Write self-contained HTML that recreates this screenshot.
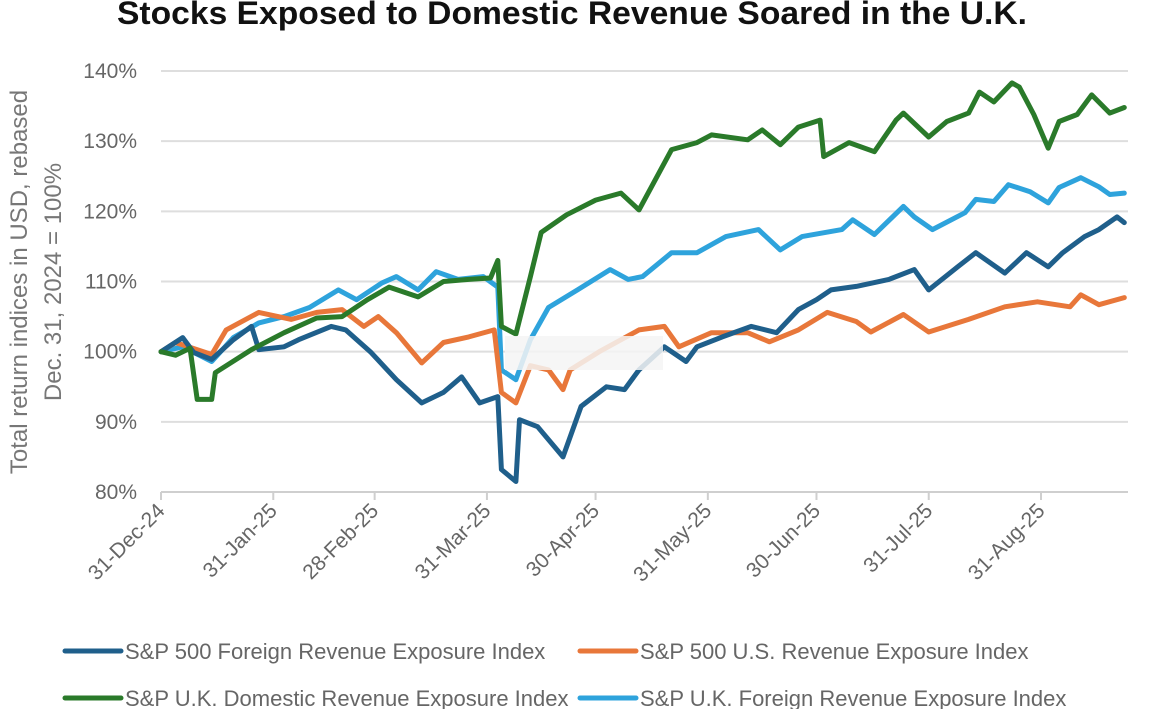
<!DOCTYPE html>
<html><head><meta charset="utf-8"><style>
body{margin:0;background:#fff;width:1170px;height:709px;overflow:hidden;font-family:"Liberation Sans",sans-serif}
</style></head><body>
<svg id="chart" width="1170" height="709" xmlns="http://www.w3.org/2000/svg">
<text x="572" y="24" text-anchor="middle" font-size="32" font-weight="bold" fill="#111" textLength="910" lengthAdjust="spacingAndGlyphs">Stocks Exposed to Domestic Revenue Soared in the U.K.</text>
<g id="grid"></g>
<g id="yticks"></g>
<g id="xticks"></g>
<g id="series"></g>
<rect x="505" y="336" width="158" height="34" fill="#f4f4f4" opacity="0.85"/>
<text transform="translate(27,282) rotate(-90)" text-anchor="middle" font-size="24" fill="#777">Total return indices in USD, rebased</text>
<text transform="translate(61,282) rotate(-90)" text-anchor="middle" font-size="24" fill="#777">Dec. 31, 2024 = 100%</text>
<g font-size="22" fill="#666">
<line x1="65" y1="651" x2="121" y2="651" stroke="#1f5f8b" stroke-width="5" stroke-linecap="round"/>
<text x="125" y="659">S&amp;P 500 Foreign Revenue Exposure Index</text>
<line x1="580" y1="651" x2="636" y2="651" stroke="#e8773a" stroke-width="5" stroke-linecap="round"/>
<text x="640" y="659">S&amp;P 500 U.S. Revenue Exposure Index</text>
<line x1="65" y1="698" x2="121" y2="698" stroke="#2a7a2a" stroke-width="5" stroke-linecap="round"/>
<text x="125" y="706">S&amp;P U.K. Domestic Revenue Exposure Index</text>
<line x1="580" y1="698" x2="636" y2="698" stroke="#2ea3dc" stroke-width="5" stroke-linecap="round"/>
<text x="640" y="706">S&amp;P U.K. Foreign Revenue Exposure Index</text>
</g>
</svg>
<script>
const yTicks=[80,90,100,110,120,130,140];
const xTickDays=[0,31,59,90,120,151,181,212,243];
const xTickLabels=["31-Dec-24","31-Jan-25","28-Feb-25","31-Mar-25","30-Apr-25","31-May-25","30-Jun-25","31-Jul-25","31-Aug-25"];
const foreignDays=[0,6,9,14,20,25,27,34,38,47,51,58,65,72,78,83,88,93,94,98,99,104,111,116,123,128,132,139,145,148,155,163,170,176,181,185,192,201,208,212,220,225,233,239,245,249,255,259,264,266];
const foreignVals=[100,102,99.9,98.9,101.7,103.6,100.3,100.7,101.7,103.6,103.1,99.9,96,92.7,94.2,96.4,92.7,93.6,83.2,81.5,90.3,89.3,85,92.2,95,94.6,97.4,100.7,98.6,100.7,102.1,103.6,102.7,106,107.4,108.8,109.3,110.3,111.7,108.8,112.1,114.1,111.2,114.1,112.1,114.1,116.4,117.4,119.2,118.4];
const usDays=[0,4,14,18,27,36,43,50,56,60,65,72,78,85,92,94,98,102,107,111,113,121,132,139,143,152,162,168,176,184,192,196,205,212,223,233,242,251,254,259,266];
const usVals=[100,101.3,99.6,103.1,105.6,104.6,105.6,106,103.6,105,102.7,98.4,101.3,102.1,103.1,94.2,92.7,98,97.4,94.6,97.4,100,103.1,103.6,100.7,102.7,102.7,101.4,103.1,105.6,104.3,102.8,105.3,102.8,104.6,106.4,107.1,106.4,108.1,106.7,107.7];
const ukDomDays=[0,4,8,10,14,15,25,34,43,50,57,63,71,78,85,91,93,94,98,102,105,112,120,127,132,141,148,152,162,166,171,176,182,183,190,197,203,205,212,217,223,226,230,235,237,241,245,248,253,257,262,266];
const ukDomVals=[100,99.5,100.5,93.2,93.2,97,100.3,102.7,104.8,105,107.4,109.2,107.8,110,110.3,110.5,113,103.6,102.5,110.7,117,119.5,121.6,122.6,120.2,128.8,129.8,130.9,130.2,131.6,129.5,132,133,127.8,129.8,128.5,133,134,130.6,132.8,134,137,135.6,138.3,137.7,133.8,129,132.8,133.8,136.6,134,134.8];
const ukForDays=[0,6,14,20,27,34,41,49,54,61,65,71,76,82,89,93,94,98,102,107,115,124,129,133,141,148,156,165,171,177,188,191,197,205,208,213,222,225,230,234,240,245,248,254,259,262,266];
const ukForVals=[100,100.7,98.6,102,104.1,105,106.3,108.8,107.4,109.8,110.7,108.8,111.4,110.3,110.7,109.2,97.4,96,101.7,106.3,108.8,111.7,110.3,110.7,114.1,114.1,116.4,117.4,114.5,116.4,117.4,118.8,116.7,120.7,119.2,117.4,119.8,121.7,121.4,123.8,122.8,121.2,123.4,124.8,123.5,122.4,122.6];

const X0=161,X1=1041,Y0=492,Y1=71;
const xs=d=>X0+(d/243)*(X1-X0);
const ys=v=>Y0-(v-80)/60*(Y0-Y1);
const NS="http://www.w3.org/2000/svg";
function mk(tag,attrs,parent){const e=document.createElementNS(NS,tag);for(const k in attrs)e.setAttribute(k,attrs[k]);parent.appendChild(e);return e;}
const grid=document.getElementById('grid'),yt=document.getElementById('yticks'),xt=document.getElementById('xticks'),ser=document.getElementById('series');
yTicks.forEach(v=>{
  const l=mk('line',{x1:X0,x2:1128,y1:ys(v),y2:ys(v),stroke:v===80?'#cfcfcf':'#dedede','stroke-width':2},grid);
  
  
  const t=mk('text',{x:137,y:ys(v)+7,'text-anchor':'end','font-size':21,fill:'#666'},yt);
  t.textContent=v+'%';
  
  
});
xTickDays.forEach((d,i)=>{
  const x=xs(d);
  const l=mk('line',{x1:x,x2:x,y1:Y0,y2:Y0+8,stroke:'#cfcfcf','stroke-width':2},xt);
  
  
  const t=mk('text',{transform:`translate(${x+5},${Y0+20}) rotate(-45)`,'text-anchor':'end','font-size':21,fill:'#666'},xt);
  t.textContent=xTickLabels[i];
  
  
});
function line(days,vals,color,name){
  const d=days.map((dd,i)=>(i?'L':'M')+xs(dd).toFixed(1)+','+ys(vals[i]).toFixed(1)).join('');
  const p=mk('path',{d:d,fill:'none',stroke:color,'stroke-width':5,'stroke-linejoin':'round','stroke-linecap':'round'},ser);
  
  
}
line(ukForDays,ukForVals,'#2ea3dc','line-uk-foreign');
line(usDays,usVals,'#e8773a','line-sp500-us');
line(foreignDays,foreignVals,'#1f5f8b','line-sp500-foreign');
line(ukDomDays,ukDomVals,'#2a7a2a','line-uk-domestic');
</script>
</body></html>
